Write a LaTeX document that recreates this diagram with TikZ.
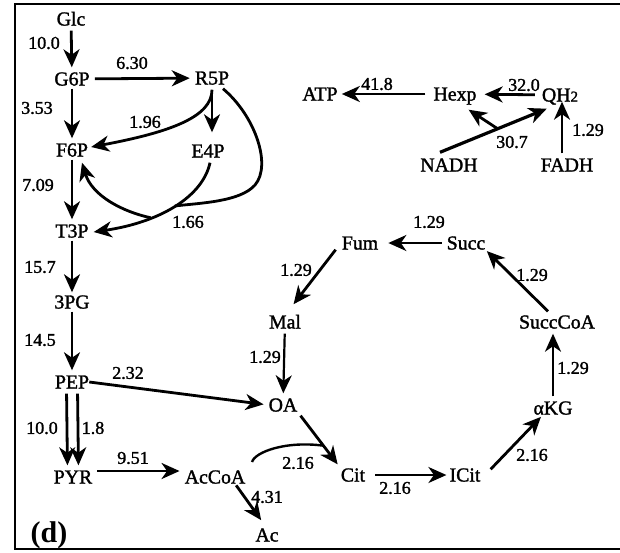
\documentclass[tikz,border=0pt]{standalone}
\usepackage{fontspec}
\setmainfont{Liberation Serif}
\newfontfamily\labelfont{Liberation Serif}[FakeBold=1.5]
\usetikzlibrary{arrows.meta,calc}
\begin{document}
\begin{tikzpicture}[x=1pt,y=-1pt,
  met/.style={inner sep=0pt, text height=13pt, text depth=0pt,
              font=\labelfont\fontsize{19.8}{21}\selectfont},
  num/.style={inner sep=0pt, font=\labelfont\fontsize{18}{19}\selectfont},
  flux/.style={line width=2.8pt,
               -{Stealth[length=18pt,width=16pt,inset=5.5pt]},
               shorten >=5pt, shorten <=5pt},
  thinflux/.style={flux, line width=2.2pt},
  joinline/.style={line width=2.8pt}]
% canvas and frame
\fill[white] (0,0) rectangle (620,552);
\useasboundingbox (0,0) rectangle (620,552);
\draw[line width=2.2pt] (620,4) -- (15,4) -- (15,549) -- (620,549);

% metabolites
\node[met] (Glc)     at (71,19)   {Glc};
\node[met] (G6P)     at (72,79)   {G6P};
\node[met] (R5P)     at (212,78)  {R5P};
\node[met] (F6P)     at (72,150)  {F6P};
\node[met] (E4P)     at (208,151) {E4P};
\node[met] (T3P)     at (72,231)  {T3P};
\node[met] (PG3)     at (72,302)  {3PG};
\node[met] (PEP)     at (72,382)  {PEP};
\node[met] (PYR)     at (73,477)  {PYR};
\node[met] (AcCoA)   at (215,477) {AcCoA};
\node[met] (Ac)      at (267,535) {Ac};
\node[met] (OA)      at (283,405) {OA};
\node[met] (Mal)     at (285,322) {Mal};
\node[met] (Fum)     at (360,243) {Fum};
\node[met] (Succ)    at (466,243) {Succ};
\node[met] (SuccCoA) at (557,322) {SuccCoA};
\node[met] (aKG)     at (553,408) {αKG};
\node[met] (ICit)    at (465,475) {ICit};
\node[met] (Cit)     at (353,475) {Cit};
\node[met] (ATP)     at (320,94)  {ATP};
\node[met] (Hexp)    at (455,94)  {Hexp};
\node[met] (QH2)     at (560,95)  {QH{\fontsize{15}{15}\selectfont 2}};
\node[met] (NADH)    at (449,165) {NADH};
\node[met] (FADH)    at (567,165) {FADH};

% glycolysis
\draw[flux] (Glc) -- (G6P);
\draw[flux] (G6P) -- (R5P);
\draw[flux, shorten <=3pt] (G6P) -- (F6P);
\draw[flux, shorten <=3pt] (F6P) -- (T3P);
\draw[flux, shorten <=3pt, shorten >=3pt] (T3P) -- (PG3);
\draw[flux, shorten <=3pt] (PG3) -- (PEP);
\draw[flux] ([xshift=-5.5pt]PEP.south) -- ([xshift=-5.5pt]PYR.north);
\draw[flux] ([xshift=5.5pt]PEP.south) -- ([xshift=5.5pt]PYR.north);
\draw[flux] ([yshift=6pt]PYR.east) -- ([yshift=6pt]AcCoA.west);
\draw[flux, shorten <=0pt] (PEP.east) -- (OA.west);
\draw[flux, shorten <=2pt, shorten >=10pt] ([xshift=20pt]AcCoA.south) -- (Ac.north);

% pentose phosphate branch
\draw[flux, shorten >=12pt] (R5P.south) -- (R5P.south |- E4P.north);
\draw[flux, shorten >=0pt] (R5P.south) .. controls +(0,32) and +(80,-15) .. ([shift={(3,-3)}]F6P.east);
\draw[flux, shorten <=0pt, shorten >=0pt] ([shift={(2,5)}]E4P.south)
  .. controls +(-7,33) and +(68,-10) .. ([shift={(5,1)}]T3P.east)
  coordinate[pos=0.5] (j1) coordinate[pos=0.68] (j2);
\coordinate (pk) at (255,185);
\draw[joinline] ([shift={(11,4)}]R5P.south) .. controls +(32,27) and +(17,-20) .. (pk)
  .. controls +(-15,17) and +(25,-3) .. (j1);
\draw[flux, shorten <=0pt, shorten >=0pt] (j2) .. controls +(-28,-6) and +(10,33) .. ([shift={(10,6)}]F6P.south);

% TCA cycle
\draw[thinflux] (Mal) -- (OA);
\draw[flux] (OA.south east) -- (Cit.north west);
\coordinate (j0) at ($(OA.south east)!0.6!(Cit.north west)$);
\draw[joinline, line width=2.4pt] ([shift={(37,-15)}]AcCoA.center) .. controls +(3,-10) and +(-38,-5) .. (j0);
\draw[thinflux, shorten <=10pt, shorten >=3pt] (Cit) -- (ICit);
\draw[flux, shorten <=0pt, shorten >=3pt] ([shift={(10,1)}]ICit.north east) -- ([xshift=-10pt]aKG.south);
\draw[thinflux] (aKG.north) -- (aKG.north |- SuccCoA.south);
\draw[flux, shorten <=0pt, shorten >=2pt] ([shift={(-9,-4)}]SuccCoA.north) -- (Succ.south east);
\draw[thinflux, shorten >=10pt] (Succ) -- (Fum);
\draw[flux, shorten <=0pt, shorten >=14pt] ([xshift=-6pt]Fum.south west) -- (Mal.north);

% oxidative phosphorylation
\draw[flux, shorten <=8pt, shorten >=4pt] (Hexp) -- (ATP);
\draw[flux, shorten <=7pt, shorten >=8pt] (QH2) -- (Hexp);
\coordinate (nq0) at ([shift={(-9,-6)}]NADH.north);
\coordinate (nq1) at ([shift={(5,7)}]QH2.south west);
\draw[flux, line width=3.2pt, shorten <=0pt, shorten >=0pt] (nq0) -- (nq1);
\coordinate (nb) at ($(nq0)!0.54!(nq1)$);
\draw[flux, shorten <=0pt, shorten >=0pt] (nb) -- ([shift={(-8,9)}]Hexp.south east);
\draw[thinflux, shorten >=0pt] ([xshift=2pt]QH2.south |- FADH.north) -- ([xshift=2pt]QH2.south);

% flux values
\node[num] (v1)  at (44,43)   {10.0};
\node[num] (v2)  at (132,63)  {6.30};
\node[num] (v3)  at (37,108)  {3.53};
\node[num] (v4)  at (145,122) {1.96};
\node[num] (v5)  at (38,185)  {7.09};
\node[num] (v6)  at (188,222) {1.66};
\node[num] (v7)  at (40,267)  {15.7};
\node[num] (v8)  at (40,340)  {14.5};
\node[num] (v9)  at (128,373) {2.32};
\node[num] (v10) at (42,428)  {10.0};
\node[num] (v11) at (93,428)  {1.8};
\node[num] (v12) at (133,458) {9.51};
\node[num] (v13) at (267,497) {4.31};
\node[num] (v14) at (298,463) {2.16};
\node[num] (v15) at (395,488) {2.16};
\node[num] (v16) at (532,455) {2.16};
\node[num] (v17) at (573,368) {1.29};
\node[num] (v18) at (532,275) {1.29};
\node[num] (v19) at (429,222) {1.29};
\node[num] (v20) at (296,270) {1.29};
\node[num] (v21) at (265,357) {1.29};
\node[num] (v22) at (377,84)  {41.8};
\node[num] (v23) at (524,85)  {32.0};
\node[num] (v24) at (512,142) {30.7};
\node[num] (v25) at (588,130) {1.29};

% panel tag
\node[inner sep=0pt, font=\fontsize{30}{30}\selectfont\bfseries] (tag) at (49,535) {(d)};
\end{tikzpicture}
\end{document}
